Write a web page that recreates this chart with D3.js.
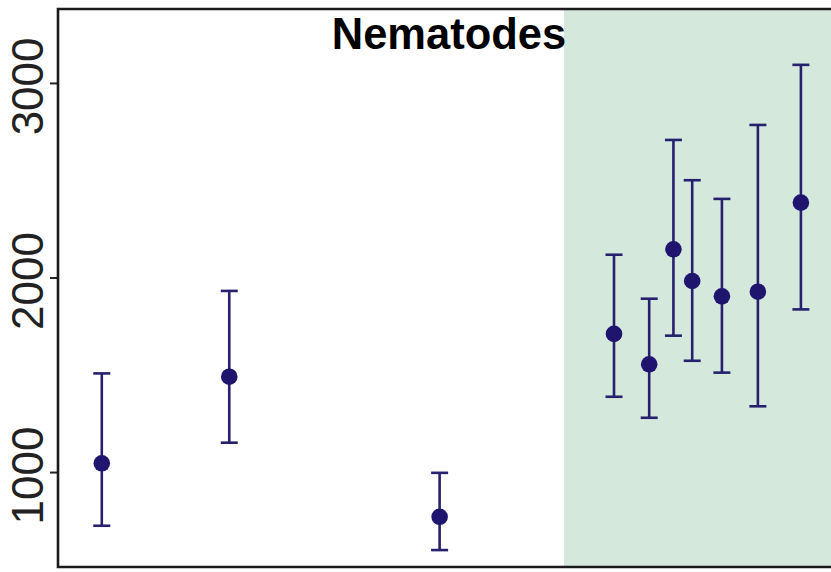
<!DOCTYPE html>
<html>
<head>
<meta charset="utf-8">
<script src="https://cdn.jsdelivr.net/npm/d3@7"></script>
<style>
  html, body { margin: 0; padding: 0; background: #ffffff; }
  svg { display: block; }
</style>
</head>
<body>
<svg id="chart" width="831" height="572"></svg>
<script>
// ---- data ----
const title = "Nematodes";
const positions = [5.6, 21.9, 48.8, 71.1, 75.6, 78.7, 81.1, 84.9, 89.5, 95.0];
const means     = [1045, 1490, 770, 1710, 1554, 2145, 1982, 1903, 1927, 2385];
const uppers    = [1507, 1931, 996, 2117, 1891, 2707, 2500, 2404, 2784, 3093];
const lowers    = [724, 1151, 599, 1387, 1279, 1701, 1572, 1511, 1338, 1836];
const yTicks    = [1000, 2000, 3000];
const shadedStart = 64.7;
const xDomain = [0, 100];
const yDomain = [512, 3380];

(function () {
const points = positions.map((p, i) => ({x: p, m: means[i], hi: uppers[i], lo: lowers[i]}));

// ---- layout ----
const svg = d3.select("#chart");
const pLeft = 58, pTop = 9, pBottom = 567, pRight = 840;

const x = d3.scaleLinear().domain(xDomain).range([pLeft, pRight]);
const y = d3.scaleLinear().domain(yDomain).range([pBottom, pTop]);

// shaded region
svg.append("rect")
  .attr("x", x(shadedStart))
  .attr("y", pTop)
  .attr("width", x(xDomain[1]) - x(shadedStart))
  .attr("height", pBottom - pTop)
  .attr("fill", "#d4e9dc");

// error bars
const col = "#26206e";
const g = svg.append("g");
const capW = 8.5;
points.forEach(d => {
  g.append("line")
    .attr("x1", x(d.x)).attr("x2", x(d.x))
    .attr("y1", y(d.hi)).attr("y2", y(d.lo))
    .attr("stroke", col).attr("stroke-width", 2.6);
  [d.hi, d.lo].forEach(v => {
    g.append("line")
      .attr("x1", x(d.x) - capW).attr("x2", x(d.x) + capW)
      .attr("y1", y(v)).attr("y2", y(v))
      .attr("stroke", col).attr("stroke-width", 2.6);
  });
});
g.selectAll("circle").data(points).join("circle")
  .attr("cx", d => x(d.x))
  .attr("cy", d => y(d.m))
  .attr("r", 8.3)
  .attr("fill", "#20156e");

// y axis
const yAxis = d3.axisLeft(y).tickValues(yTicks).tickSize(8).tickFormat(d3.format("d"));
const ax = svg.append("g").attr("transform", `translate(${pLeft},0)`).call(yAxis);
ax.select(".domain").remove();
ax.selectAll(".tick line").attr("stroke", "#222").attr("stroke-width", 2);
ax.selectAll(".tick text")
  .attr("x", null).attr("dy", null)
  .attr("transform", "translate(-15,3) rotate(-90)")
  .attr("text-anchor", "middle")
  .attr("font-family", "Liberation Sans, Arial, sans-serif")
  .attr("font-size", 44)
  .attr("fill", "#222");

// frame
svg.append("path")
  .attr("d", `M${pRight + 5},${pTop} H${pLeft} V${pBottom} H${pRight + 5}`)
  .attr("fill", "none")
  .attr("stroke", "#1a1a1a")
  .attr("stroke-width", 2.6);

// title
svg.append("text")
  .attr("x", 449)
  .attr("y", 49)
  .attr("text-anchor", "middle")
  .attr("font-family", "Liberation Sans, Arial, sans-serif")
  .attr("font-weight", "bold")
  .attr("font-size", 43.5)
  .attr("fill", "#000")
  .text(title);
})();
</script>
</body>
</html>
